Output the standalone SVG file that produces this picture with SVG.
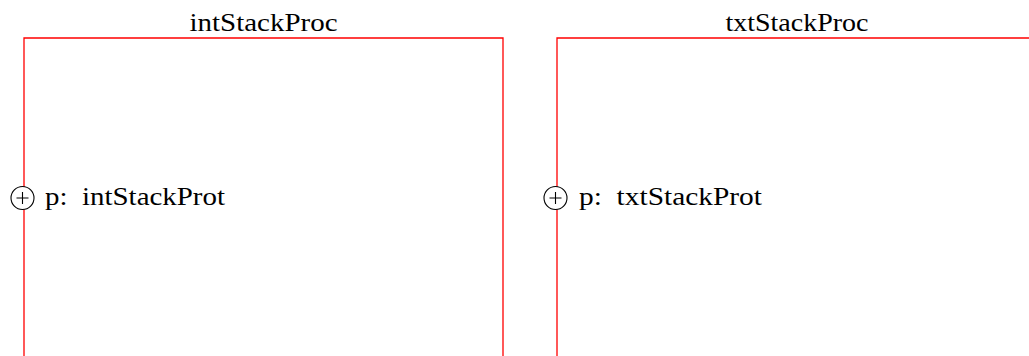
<svg xmlns="http://www.w3.org/2000/svg" width="1029" height="356" viewBox="0 0 1029 356">
<style>
.box{fill:none;stroke:#ff0000;stroke-width:1.3}
.port{fill:#fff;stroke:#000;stroke-width:1.1}
.plus{stroke:#000;stroke-width:1.1}
text{font-family:"Liberation Serif",serif;font-size:25.5px;fill:#000;white-space:pre}
</style>
<rect width="1029" height="356" fill="#fff"/>
<g id="intStackProc">
<polyline class="box" points="24,356 24,38 503,38 503,356"/>
<text x="263.5" y="31" text-anchor="middle" textLength="148" lengthAdjust="spacingAndGlyphs">intStackProc</text>
<g id="port-int">
<circle class="port" cx="22.5" cy="198" r="11.5"/>
<path class="plus" d="M16.5,198H28.5M22.5,192V204"/>
<text x="45" y="205" textLength="180" lengthAdjust="spacingAndGlyphs" xml:space="preserve">p:  intStackProt</text>
</g>
</g>
<g id="txtStackProc">
<polyline class="box" points="557,356 557,38 1036,38 1036,356"/>
<text x="797" y="31" text-anchor="middle" textLength="143" lengthAdjust="spacingAndGlyphs">txtStackProc</text>
<g id="port-txt">
<circle class="port" cx="555.5" cy="198" r="11.5"/>
<path class="plus" d="M549.5,198H561.5M555.5,192V204"/>
<text x="579" y="205" textLength="183" lengthAdjust="spacingAndGlyphs" xml:space="preserve">p:  txtStackProt</text>
</g>
</g>
<g id="connectors"/>
</svg>
